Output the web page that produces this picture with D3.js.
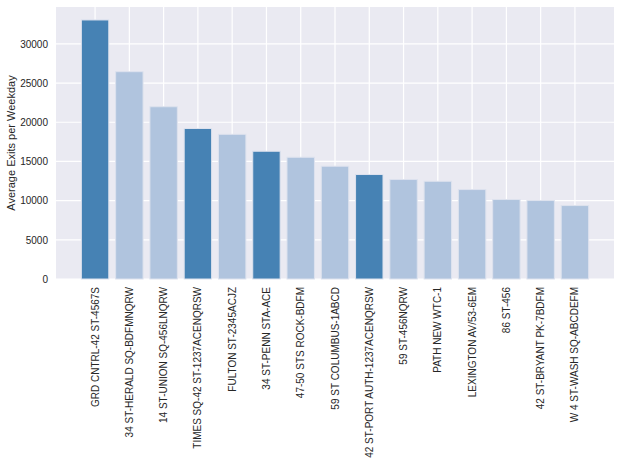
<!DOCTYPE html>
<html>
<head>
<meta charset="utf-8">
<script src="https://cdn.jsdelivr.net/npm/d3@7"></script>
<style>
  body { margin: 0; background: #fff; }
  text { font-family: "Liberation Sans", Arial, sans-serif; fill: #262626; }
</style>
</head>
<body>
<svg id="chart"></svg>
<script>

var stations = ["GRD CNTRL-42 ST-4567S", "34 ST-HERALD SQ-BDFMNQRW", "14 ST-UNION SQ-456LNQRW",
  "TIMES SQ-42 ST-1237ACENQRSW", "FULTON ST-2345ACJZ", "34 ST-PENN STA-ACE",
  "47-50 STS ROCK-BDFM", "59 ST COLUMBUS-1ABCD", "42 ST-PORT AUTH-1237ACENQRSW",
  "59 ST-456NQRW", "PATH NEW WTC-1", "LEXINGTON AV/53-6EM", "86 ST-456",
  "42 ST-BRYANT PK-7BDFM", "W 4 ST-WASH SQ-ABCDEFM"]
var exits = [33050, 26450, 21980, 19200, 18460, 16300, 15530, 14390, 13330,
  12690, 12470, 11410, 10140, 10010, 9370]
var highlighted = [true, false, false, true, false, true, false, false, true,
  false, false, false, false, false, false]
var yTicks = [0, 5000, 10000, 15000, 20000, 25000, 30000]

var width = 621
var height = 465
var margin = {top: 7, right: 7, bottom: 186, left: 56}

var svg = d3.select("#chart")
  .attr("width", width)
  .attr("height", height)

var x = d3.scaleBand()
  .domain(stations)
  .range([margin.left, width - margin.right])
  .paddingInner(0.2)
  .paddingOuter(0.74)

var y = d3.scaleLinear()
  .domain([0, d3.max(exits) * 1.05])
  .range([height - margin.bottom, margin.top])

// plot background
svg.append("rect")
  .attr("x", margin.left)
  .attr("y", margin.top)
  .attr("width", width - margin.left - margin.right)
  .attr("height", height - margin.top - margin.bottom)
  .attr("fill", "#eaeaf2")

// grid
var grid = svg.append("g").attr("class", "grid")
grid.selectAll("line.h")
  .data(yTicks)
  .enter().append("line")
  .attr("class", "h")
  .attr("x1", margin.left)
  .attr("x2", width - margin.right)
  .attr("y1", function(d) { return y(d) })
  .attr("y2", function(d) { return y(d) })
  .attr("stroke", "#fff")
  .attr("stroke-width", 1.2)
grid.selectAll("line.v")
  .data(stations)
  .enter().append("line")
  .attr("class", "v")
  .attr("x1", function(d) { return x(d) + x.bandwidth() / 2 })
  .attr("x2", function(d) { return x(d) + x.bandwidth() / 2 })
  .attr("y1", margin.top)
  .attr("y2", height - margin.bottom)
  .attr("stroke", "#fff")
  .attr("stroke-width", 1.2)

// bars
svg.append("g").selectAll("rect")
  .data(stations)
  .enter().append("rect")
  .attr("x", function(d) { return x(d) })
  .attr("width", x.bandwidth())
  .attr("y", function(d, i) { return y(exits[i]) })
  .attr("height", function(d, i) { return y(0) - y(exits[i]) })
  .attr("fill", function(d, i) { return highlighted[i] ? "#4682b4" : "#b0c4de" })
  .attr("stroke", "#dde2ee")
  .attr("stroke-width", 1)

// y axis labels
var yAxis = svg.append("g")
  .attr("transform", "translate(" + margin.left + ",0)")
  .call(d3.axisLeft(y).tickValues(yTicks).tickSize(0).tickPadding(8).tickFormat(d3.format("d")))
yAxis.select(".domain").remove()
yAxis.selectAll("text").attr("font-size", 10).attr("fill", "#262626")
  .style("font-family", "Liberation Sans, Arial, sans-serif")

// x axis labels
var xAxis = svg.append("g")
  .attr("transform", "translate(0," + (height - margin.bottom) + ")")
  .call(d3.axisBottom(x).tickSize(0).tickPadding(0))
xAxis.select(".domain").remove()
xAxis.selectAll("text")
  .attr("font-size", 10)
  .attr("fill", "#262626")
  .style("font-family", "Liberation Sans, Arial, sans-serif")
  .attr("text-anchor", "end")
  .attr("dy", "0.35em")
  .attr("transform", "translate(0,8) rotate(-90)")
  .attr("x", 0)
  .attr("y", 0)

// y axis title
svg.append("text")
  .attr("transform", "translate(15," + ((margin.top + height - margin.bottom) / 2) + ") rotate(-90)")
  .attr("text-anchor", "middle")
  .attr("font-size", 11)
  .text("Average Exits per Weekday")

</script>
</body>
</html>
